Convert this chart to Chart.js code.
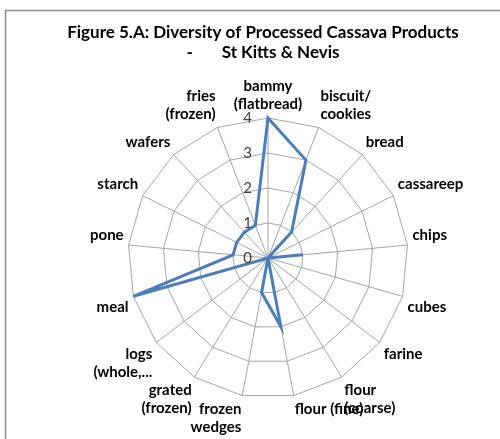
<!DOCTYPE html>
<html>
<head>
<meta charset="utf-8">
<script src="https://cdn.jsdelivr.net/npm/chart.js@4/dist/chart.umd.min.js"></script>
<style>
  html, body { margin: 0; padding: 0; background: #fff; }
  #wrap { width: 500px; height: 439px; position: relative; }
</style>
</head>
<body>
<div id="wrap"><canvas id="radar" width="500" height="439"></canvas></div>
<script>
// categories (multi-line labels as in the original)
const categories = [
  ['bammy', '(flatbread)'],
  ['biscuit/', 'cookies'],
  'bread',
  'cassareep',
  'chips',
  'cubes',
  'farine',
  ['flour', '(coarse)'],
  'flour (fine)',
  ['frozen', 'wedges'],
  ['grated', '(frozen)'],
  ['logs', '(whole,...'],
  'meal',
  'pone',
  'starch',
  'wafers',
  ['fries', '(frozen)']
];
const productCounts = [4, 3, 1, 0, 1, 0, 0, 0, 2, 1, 0, 0, 4, 1, 1, 1, 1];
const tickValues = [0, 1, 2, 3, 4];
const titleLines = ['Figure 5.A: Diversity of Processed Cassava Products', '-       St Kitts & Nevis'];

const FONT = 'Lato, "Open Sans", sans-serif';

// outer frame like the Excel chart border
const framePlugin = {
  id: 'frame',
  beforeDraw(chart) {
    const ctx = chart.ctx;
    ctx.save();
    ctx.fillStyle = '#fff';
    ctx.fillRect(0, 0, chart.width, chart.height);
    ctx.strokeStyle = '#8c8c8c';
    ctx.lineWidth = 1.5;
    ctx.strokeRect(5.5, 10.5, 600, 600);
    ctx.restore();
  }
};

// title drawn separately so it stays centred on the page, not on the shifted plot
const captionPlugin = {
  id: 'caption',
  afterDraw(chart) {
    const ctx = chart.ctx;
    ctx.save();
    ctx.font = 'bold 17px ' + FONT;
    ctx.fillStyle = '#000';
    ctx.textAlign = 'center';
    ctx.textBaseline = 'middle';
    titleLines.forEach((t, i) => ctx.fillText(t, 263, 33 + i * 20));
    ctx.restore();
  }
};

// value labels on the left side of the vertical axis
const tickLabelPlugin = {
  id: 'tickLabels',
  afterDraw(chart) {
    const r = chart.scales.r;
    const ctx = chart.ctx;
    ctx.save();
    ctx.font = '15px ' + FONT;
    ctx.fillStyle = '#404040';
    ctx.textAlign = 'right';
    ctx.textBaseline = 'middle';
    tickValues.forEach(v => {
      const d = r.getDistanceFromCenterForValue(v);
      ctx.fillText(String(v), r.xCenter - 16, r.yCenter - d);
    });
    ctx.restore();
  }
};

new Chart(document.getElementById('radar'), {
  type: 'radar',
  data: {
    labels: categories,
    datasets: [{
      data: productCounts,
      borderColor: '#4a7ebb',
      borderWidth: 3,
      fill: false,
      pointRadius: 0,
      pointHoverRadius: 0
    }]
  },
  options: {
    responsive: false,
    animation: false,
    layout: { padding: { left: 38, right: 0, top: 76, bottom: 0 } },
    plugins: {
      legend: { display: false },
      tooltip: { enabled: false },
      title: { display: false }
    },
    scales: {
      r: {
        min: 0,
        max: 4,
        ticks: { stepSize: 1, display: false },
        grid: { color: '#a6a6a6', lineWidth: 1 },
        angleLines: { color: '#a6a6a6', lineWidth: 1 },
        pointLabels: {
          color: '#000',
          font: { family: FONT, size: 15, weight: 'bold', lineHeight: 1.2 },
          padding: 5
        }
      }
    }
  },
  plugins: [framePlugin, captionPlugin, tickLabelPlugin]
});
</script>
</body>
</html>
